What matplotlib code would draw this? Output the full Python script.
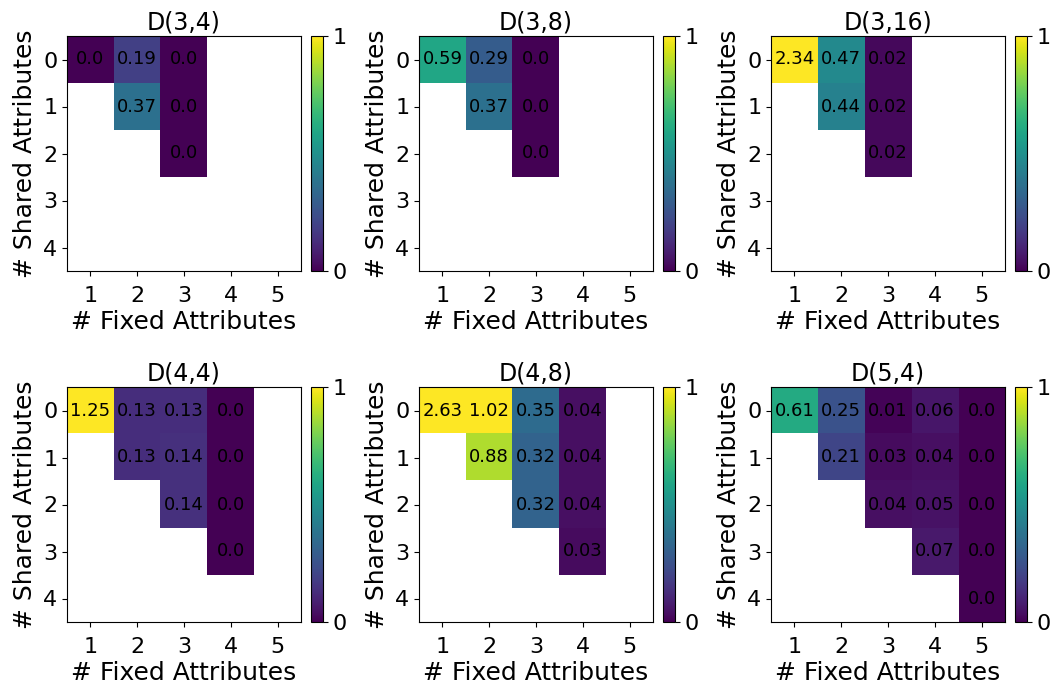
import numpy as np
import matplotlib
matplotlib.use("Agg")
import matplotlib.pyplot as plt

nan = np.nan

# rows: shared attributes 0..4, cols: fixed attributes 1..5
titles = ["D(3,4)", "D(3,8)", "D(3,16)", "D(4,4)", "D(4,8)", "D(5,4)"]

d_3_4 = [[0.0, 0.19, 0.0, nan, nan],
         [nan, 0.37, 0.0, nan, nan],
         [nan, nan, 0.0, nan, nan],
         [nan, nan, nan, nan, nan],
         [nan, nan, nan, nan, nan]]

d_3_8 = [[0.59, 0.29, 0.0, nan, nan],
         [nan, 0.37, 0.0, nan, nan],
         [nan, nan, 0.0, nan, nan],
         [nan, nan, nan, nan, nan],
         [nan, nan, nan, nan, nan]]

d_3_16 = [[2.34, 0.47, 0.02, nan, nan],
          [nan, 0.44, 0.02, nan, nan],
          [nan, nan, 0.02, nan, nan],
          [nan, nan, nan, nan, nan],
          [nan, nan, nan, nan, nan]]

d_4_4 = [[1.25, 0.13, 0.13, 0.0, nan],
         [nan, 0.13, 0.14, 0.0, nan],
         [nan, nan, 0.14, 0.0, nan],
         [nan, nan, nan, 0.0, nan],
         [nan, nan, nan, nan, nan]]

d_4_8 = [[2.63, 1.02, 0.35, 0.04, nan],
         [nan, 0.88, 0.32, 0.04, nan],
         [nan, nan, 0.32, 0.04, nan],
         [nan, nan, nan, 0.03, nan],
         [nan, nan, nan, nan, nan]]

d_5_4 = [[0.61, 0.25, 0.01, 0.06, 0.0],
         [nan, 0.21, 0.03, 0.04, 0.0],
         [nan, nan, 0.04, 0.05, 0.0],
         [nan, nan, nan, 0.07, 0.0],
         [nan, nan, nan, nan, 0.0]]

grids = [d_3_4, d_3_8, d_3_16, d_4_4, d_4_8, d_5_4]
fixed_labels = [1, 2, 3, 4, 5]
shared_labels = [0, 1, 2, 3, 4]

W, H = 1057, 690
fig = plt.figure(figsize=(W / 100, H / 100), dpi=100)

for k, (grid, title) in enumerate(zip(grids, titles)):
    r, c = divmod(k, 3)
    x0 = 67 + 352 * c
    y0 = 36 + 351 * r
    ax = fig.add_axes([x0 / W, 1 - (y0 + 235) / H, 234 / W, 235 / H])
    cax = fig.add_axes([(x0 + 244) / W, 1 - (y0 + 235) / H, 12 / W, 235 / H])

    data = np.array(grid, dtype=float)
    im = ax.imshow(data, cmap="viridis", vmin=0, vmax=1, aspect="auto")
    for i in range(data.shape[0]):
        for j in range(data.shape[1]):
            if not np.isnan(data[i, j]):
                ax.text(j, i, str(data[i, j]), ha="center", va="center",
                        fontsize=13, color="black")

    ax.set_xticks(range(5))
    ax.set_xticklabels(fixed_labels, fontsize=16)
    ax.set_yticks(range(5))
    ax.set_yticklabels(shared_labels, fontsize=16)
    ax.tick_params(axis="x", pad=7)
    ax.set_xlabel("# Fixed Attributes", fontsize=18, labelpad=3)
    ax.set_ylabel("# Shared Attributes", fontsize=18)
    ax.set_title(title, fontsize=17, pad=5)

    cb = fig.colorbar(im, cax=cax, ticks=[0, 1])
    cb.ax.tick_params(labelsize=16)

fig.savefig("out.png", dpi=100)
